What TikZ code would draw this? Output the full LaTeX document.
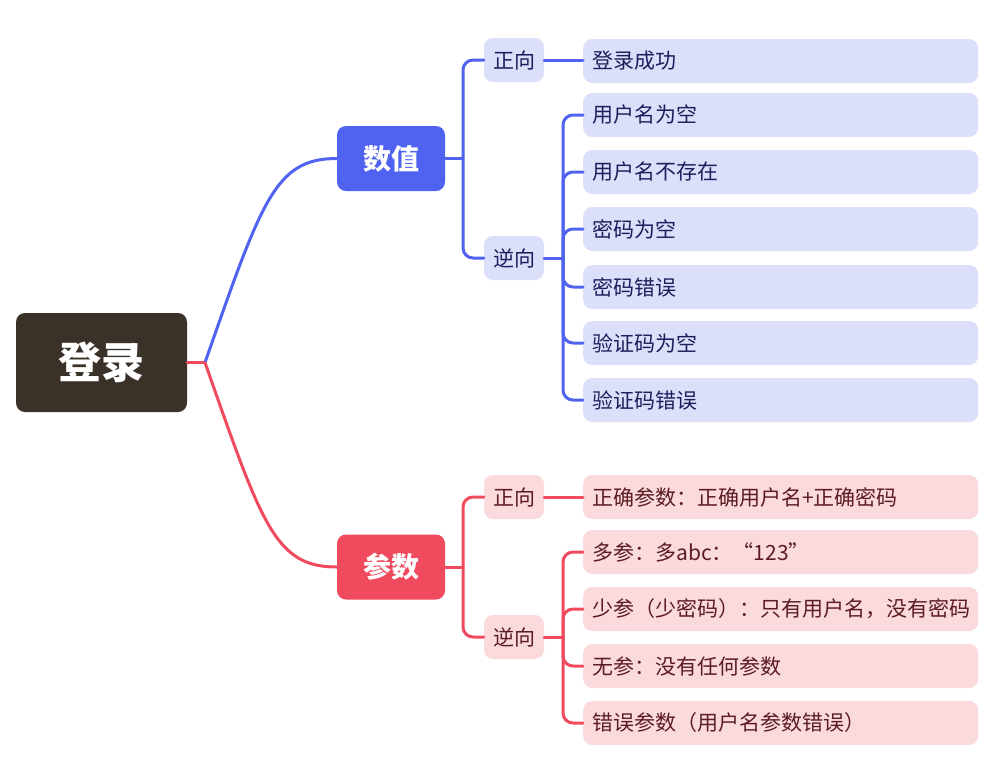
\documentclass[tikz,border=0pt]{standalone}
\usepackage{fontspec}
\setmainfont{Noto Sans CJK SC}
\definecolor{rootc}{HTML}{3A3128}
\definecolor{bluec}{HTML}{5063F0}
\definecolor{bluel}{HTML}{DCDFFA}
\definecolor{bluet}{HTML}{1C1F5C}
\definecolor{redc}{HTML}{EF4A5E}
\definecolor{redl}{HTML}{FADADD}
\definecolor{redt}{HTML}{5C1C22}

\begin{document}
\begin{tikzpicture}[line cap=round,line join=round,x=1pt,y=-1pt,
    root/.style={rectangle,rounded corners=9pt,fill=rootc,text=white,font=\fontsize{43}{50}\selectfont\bfseries,minimum width=171pt,minimum height=99pt},
    main/.style={rectangle,rounded corners=9pt,text=white,font=\fontsize{28}{33}\selectfont\bfseries,minimum width=108pt,minimum height=65pt},
    side/.style={rectangle,rounded corners=9pt,font=\fontsize{21}{25}\selectfont,minimum width=60pt,minimum height=44pt,inner sep=0pt},
    leaf/.style={rectangle,rounded corners=9pt,font=\fontsize{21}{25}\selectfont,text width=377pt,inner xsep=9pt,inner ysep=0pt,minimum height=44pt,align=left,anchor=west},
    link/.style={line width=3pt,rounded corners=10pt}]

    \useasboundingbox (0,0) rectangle (1004,756);

    % root and main topics
    \node[root] (login) at (101.5,362.5) {登录};
    \node[main,fill=bluec] (num) at (391,158.5) {数值};
    \node[main,fill=redc] (par) at (391,567) {参数};

    % 数值 branch
    \node[side,fill=bluel,text=bluet] (npos) at (514,60) {正向};
    \node[side,fill=bluel,text=bluet] (nneg) at (514,258) {逆向};

    \node[leaf,fill=bluel,text=bluet] (n0) at (583,61) {登录成功};
    \node[leaf,fill=bluel,text=bluet] (n1) at (583,115) {用户名为空};
    \node[leaf,fill=bluel,text=bluet] (n2) at (583,172) {用户名不存在};
    \node[leaf,fill=bluel,text=bluet] (n3) at (583,229) {密码为空};
    \node[leaf,fill=bluel,text=bluet] (n4) at (583,287) {密码错误};
    \node[leaf,fill=bluel,text=bluet] (n5) at (583,343) {验证码为空};
    \node[leaf,fill=bluel,text=bluet] (n6) at (583,400) {验证码错误};

    % 参数 branch
    \node[side,fill=redl,text=redt] (ppos) at (514,497) {正向};
    \node[side,fill=redl,text=redt] (pneg) at (514,637) {逆向};

    \node[leaf,fill=redl,text=redt] (p0) at (583,497) {正确参数：正确用户名+正确密码};
    \node[leaf,fill=redl,text=redt] (p1) at (583,552) {多参：多abc：“123”};
    \node[leaf,fill=redl,text=redt] (p2) at (583,609) {少参（少密码）：只有用户名，没有密码};
    \node[leaf,fill=redl,text=redt] (p3) at (583,666) {无参：没有任何参数};
    \node[leaf,fill=redl,text=redt] (p4) at (583,723) {错误参数（用户名参数错误）};

    % connectors
    \coordinate (hub) at (205,362.5);
    \draw[link,redc] (login.east) -- (hub);
    \draw[link,bluec] (hub) .. controls (262,200) and (275,158.5) .. (num.west);
    \draw[link,redc] (hub) .. controls (262,525) and (275,567) .. (par.west);

    \coordinate (nfork) at (463,158.5);
    \draw[link,bluec] (num.east) -- (nfork);
    \draw[link,bluec] (nfork) |- (npos.west);
    \draw[link,bluec] (nfork) |- (nneg.west);
    \draw[link,bluec] (npos.east) -- (npos.east -| n0.west);
    \coordinate (nnfork) at (563,258);
    \draw[link,bluec] (nneg.east) -- (nnfork);
    \foreach \i in {1,...,6}
        \draw[link,bluec] (nnfork) |- (n\i.west);

    \coordinate (pfork) at (463,567);
    \draw[link,redc] (par.east) -- (pfork);
    \draw[link,redc] (pfork) |- (ppos.west);
    \draw[link,redc] (pfork) |- (pneg.west);
    \draw[link,redc] (ppos.east) -- (p0.west);
    \coordinate (ppfork) at (563,637);
    \draw[link,redc] (pneg.east) -- (ppfork);
    \foreach \i in {1,...,4}
        \draw[link,redc] (ppfork) |- (p\i.west);

\end{tikzpicture}
\end{document}
